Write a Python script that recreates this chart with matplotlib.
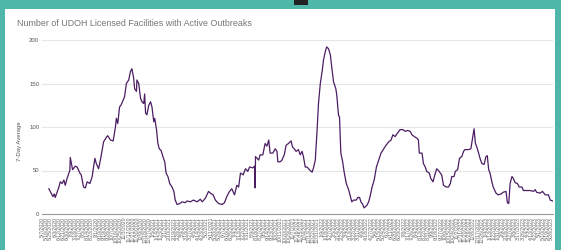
import matplotlib
matplotlib.use("Agg")
import matplotlib.pyplot as plt
import matplotlib.patches as mpatches
import pandas as pd
import numpy as np

plt.rcParams['font.family'] = ['Liberation Sans', 'DejaVu Sans']

title = "Number of UDOH Licensed Facilities with Active Outbreaks"
y_label = "7-Day Average"
start_date = "2020-05-07"
end_day = 1119
label_step_days = 9
y_ticks = [0, 50, 100, 150, 200]

# day offsets from start_date and 7-day average values
day_offset = [14, 16, 19, 23, 26, 28, 36, 39, 43, 47, 50, 54, 60, 61, 66, 72, 76, 82, 85,
              90, 94, 98, 104, 109, 112, 115, 118, 123, 127, 131, 134, 140, 143, 149, 155,
              160, 162, 165, 169, 172, 177, 180, 184, 189, 193, 196, 200, 202, 206, 207,
              211, 215, 218, 222, 224, 226, 229, 233, 237, 240, 244, 246, 250, 253, 256,
              260, 264, 268, 271, 275, 279, 284, 288, 291, 295, 301, 306, 313, 317, 324,
              331, 339, 346, 350, 357, 364, 368, 374, 379, 386, 394, 399, 404, 410, 415,
              421, 426, 430, 434, 440, 445, 450, 454, 461, 465, 466, 467, 474, 477, 483,
              488, 492, 496, 499, 505, 510, 514, 516, 521, 525, 530, 534, 539, 545, 548,
              552, 556, 561, 565, 569, 572, 576, 580, 585, 591, 594, 598, 602, 605, 609,
              613, 616, 620, 623, 627, 631, 634, 638, 643, 645, 649, 651, 654, 658, 661,
              666, 671, 675, 678, 682, 688, 691, 695, 698, 702, 705, 711, 715, 718, 722,
              727, 732, 737, 742, 748, 753, 759, 764, 768, 773, 778, 784, 790, 795, 800,
              806, 810, 815, 821, 824, 826, 832, 835, 839, 842, 848, 851, 856, 859, 864,
              868, 872, 875, 879, 885, 890, 894, 897, 902, 905, 910, 914, 919, 923, 926,
              934, 939, 942, 946, 949, 952, 956, 959, 963, 968, 972, 975, 978, 981, 985,
              988, 994, 999, 1005, 1010, 1016, 1019, 1022, 1025, 1029, 1032, 1036, 1041,
              1045, 1051, 1054, 1060, 1069, 1076, 1080, 1083, 1091, 1096, 1102, 1109,
              1113, 1118]
avg_value = [29, 27, 24, 20, 23, 19, 31, 37, 35, 39, 33, 41, 50, 65, 51, 55, 54, 47, 45,
             31, 30, 37, 35, 43, 54, 64, 58, 52, 62, 74, 83, 88, 90, 85, 84,
             100, 110, 104, 123, 125, 131, 135, 150, 154, 164, 167, 156, 144, 141, 154,
             150, 133, 129, 127, 138, 116, 114, 125, 129, 123, 106, 110, 97, 81, 75,
             73, 66, 60, 47, 43, 35, 31, 26, 16, 11, 12, 14, 13, 15, 14,
             16, 14, 17, 14, 18, 26, 24, 22, 16, 12, 11, 13, 20, 26, 29,
             22, 33, 31, 47, 45, 52, 49, 54, 53, 55, 30, 66, 62, 68, 68,
             81, 78, 85, 70, 70, 75, 72, 60, 60, 62, 68, 79, 81, 84, 77,
             75, 72, 74, 68, 72, 66, 54, 54, 51, 48, 53, 62, 97, 127, 150,
             164, 177, 187, 192, 190, 183, 169, 152, 144, 137, 113, 112, 70, 60, 49,
             35, 28, 20, 14, 16, 16, 19, 19, 14, 11, 7, 10, 14, 20, 30,
             39, 54, 62, 70, 75, 79, 83, 85, 91, 89, 93, 97, 97, 95, 96,
             95, 91, 89, 87, 85, 70, 70, 58, 54, 49, 47, 41, 37, 43, 52,
             50, 47, 45, 33, 31, 31, 35, 43, 43, 49, 51, 64, 66, 72, 74,
             74, 75, 85, 98, 81, 77, 70, 64, 58, 57, 66, 67, 51, 47, 37,
             31, 24, 22, 23, 25, 26, 13, 12, 35, 43, 41, 36, 35,
             31, 31, 27, 27, 27, 26, 28, 25, 24, 26, 22, 22,
             16, 15]

line_color = "#4b1d63"
teal = "#4fb7aa"

fig = plt.figure(figsize=(5.61, 2.5), dpi=100)
fig.patch.set_facecolor(teal)
# white card
fig.patches.append(mpatches.Rectangle((5 / 561, 0), (555 - 5) / 561, 1 - 9 / 250,
                                      transform=fig.transFigure, facecolor="white",
                                      edgecolor="none", zorder=0))
fig.patches.append(mpatches.Rectangle((294 / 561, 1 - 5 / 250), 14 / 561, 5 / 250,
                                      transform=fig.transFigure, facecolor="#222222",
                                      edgecolor="none", zorder=1))

ax = fig.add_axes([42 / 561, 1 - 214 / 250, (553 - 42) / 561, (214 - 40) / 250])
ax.set_zorder(5)
ax.set_facecolor("none")
ax.plot(day_offset, avg_value, color=line_color, lw=0.9, zorder=3)

ax.set_xlim(-1, end_day)
ax.set_ylim(0, 200)
ax.set_yticks(y_ticks)
ax.set_yticklabels([str(v) for v in y_ticks], fontsize=4.3, color="#555555")
ax.grid(axis="y", color="#e6e6e6", lw=0.8)
ax.set_axisbelow(True)
for s in ["top", "right", "left"]:
    ax.spines[s].set_visible(False)
ax.spines["bottom"].set_color("#999999")
ax.spines["bottom"].set_linewidth(0.8)
ax.spines["bottom"].set_zorder(4)
ax.tick_params(axis="both", length=0, pad=2)

tick_days = np.arange(0, end_day, label_step_days)
tick_dates = pd.to_datetime(start_date) + pd.to_timedelta(tick_days, unit="D")
tick_labels = [f"{d.month}/{d.day}/{d.year}" for d in tick_dates]
ax.set_xticks(tick_days)
ax.set_xticklabels(tick_labels, rotation=90, fontsize=3.7, color="#666666")

fig.text(20 / 561, 1 - 141 / 250, y_label, fontsize=4.3, color="#555555", rotation=90,
         va="center", ha="center", zorder=6)
fig.text(17 / 561, 1 - 24 / 250, title, fontsize=6.4, color="#757575", va="center", ha="left",
         zorder=6)

fig.savefig("out.png", dpi=100, facecolor=fig.get_facecolor())
